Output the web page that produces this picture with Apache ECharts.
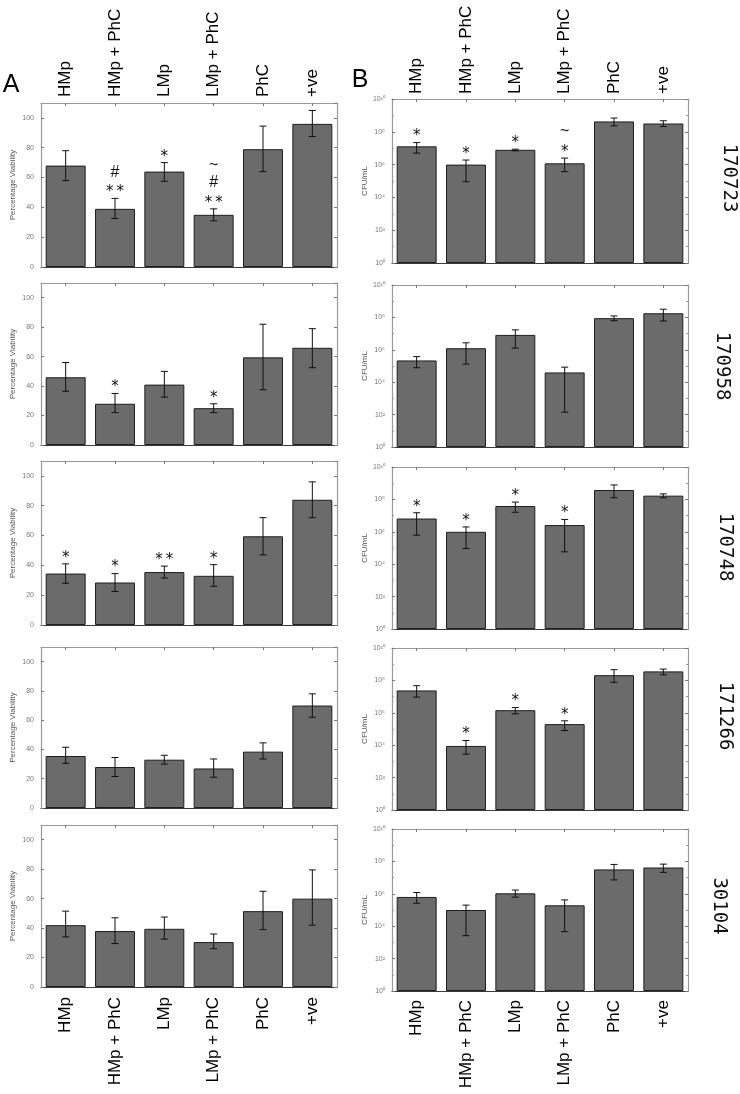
<!DOCTYPE html>
<html>
<head>
<meta charset="utf-8">
<script src="https://cdn.jsdelivr.net/npm/echarts@6/dist/echarts.min.js"></script>
<style>
html,body{margin:0;padding:0;background:#fff;}
#chart{width:740px;height:1094px;}
</style>
</head>
<body>
<div id="chart"></div>
<script>
// ---------- DATA ----------
const categories = ['HMp', 'HMp + PhC', 'LMp', 'LMp + PhC', 'PhC', '+ve'];
const strains = ['170723', '170958', '170748', '171266', '30104'];
const viabTicks = [0, 20, 40, 60, 80, 100];
const cfuTicks = [1, 1e2, 1e4, 1e6, 1e8, 1e10];

// Panel A: Percentage viability (mean, lower and upper error bar ends), one row per strain
const viabMean = [
  [68, 39, 64, 35, 79, 96],
  [46, 28, 41, 25, 59.5, 66],
  [34.5, 28.5, 35.5, 33, 59.5, 84],
  [35.5, 28, 33, 27, 38.5, 70],
  [42, 38, 39.5, 30.5, 51.5, 60]
];
const viabLow = [
  [58, 32.5, 57.5, 31, 64, 87.5],
  [36.5, 22, 32.5, 22, 37.5, 52.5],
  [28, 22.5, 31.5, 26, 47, 72],
  [30.5, 21.5, 30, 21, 33.5, 62],
  [34, 29.5, 32.5, 26, 39, 42]
];
const viabHigh = [
  [78, 46, 70, 39, 94.5, 105],
  [56, 35, 50, 28, 82, 79],
  [41, 34.5, 39.5, 40.5, 72, 96],
  [41.5, 34.5, 36, 33.5, 44.5, 78],
  [51.5, 47, 47.5, 36, 65, 79.5]
];
const viabMarks = [
  ['', '#\n**', '*', '~\n#\n**', '', ''],
  ['', '*', '', '*', '', ''],
  ['*', '*', '**', '*', '', ''],
  ['', '', '', '', '', ''],
  ['', '', '', '', '', '']
];

// Panel B: CFU/mL (mean, lower and upper error bar ends)
const cfuMean = [
  [1.3e7, 1e6, 8e6, 1.2e6, 4.3e8, 3.2e8],
  [2.2e5, 1.25e6, 8.3e6, 4e4, 9e7, 1.8e8],
  [6.6e6, 1e6, 3.9e7, 2.6e6, 3.8e8, 1.7e8],
  [2.4e7, 9e3, 1.45e6, 2e5, 2.1e8, 3.6e8],
  [6.4e5, 1e5, 1.07e6, 1.95e5, 3.2e7, 4.2e7]
];
const cfuLow = [
  [5e6, 9e4, 6.9e6, 3.7e5, 2.3e8, 2.1e8],
  [7.8e4, 1.3e5, 1.26e6, 1.4e2, 6.3e7, 6e7],
  [6.2e5, 9.3e4, 1.6e7, 5.8e4, 1.26e8, 1.26e8],
  [9.3e6, 2.8e3, 8.7e5, 8e4, 7.6e7, 2.2e8],
  [2.6e5, 2.6e3, 6.2e5, 4.6e3, 7.2e6, 2.1e7]
];
const cfuHigh = [
  [2.2e7, 1.9e6, 8.7e6, 2.5e6, 6.9e8, 4.7e8],
  [3.8e5, 2.7e6, 1.7e7, 8.5e4, 1.23e8, 3.2e8],
  [1.5e7, 2e6, 6.8e7, 5.8e6, 7.8e8, 2.2e8],
  [4.7e7, 1.95e4, 2.1e6, 3.2e5, 4.6e8, 5e8],
  [1.2e6, 2e5, 1.7e6, 4.2e5, 6.5e7, 6.8e7]
];
const cfuMarks = [
  ['*', '*', '*', '~\n*', '', ''],
  ['', '', '', '', '', ''],
  ['*', '*', '*', '*', '', ''],
  ['', '*', '*', '*', '', ''],
  ['', '', '', '', '', '']
];

// ---------- LAYOUT ----------
const colLeft = [41, 392];
const colWidth = [296, 296];
const rowTop = [[103, 283, 461, 647, 825], [99, 285, 467, 648, 829]];
const rowHeight = [[164, 162, 164, 161, 162], [164, 162, 162, 162, 162]];
const strainPos = [[729, 178], [722, 366], [725, 547], [725, 716], [719, 906]];

const FONT = 'Liberation Sans, Arial, sans-serif';
const sup = {'0':'\u2070','1':'\u00b9','2':'\u00b2','3':'\u00b3','4':'\u2074','5':'\u2075','6':'\u2076','7':'\u2077','8':'\u2078','9':'\u2079'};
function cfuLabel(expo) {
  const n = Math.round(expo);
  return '10' + String(n).split('').map(c => sup[c]).join('');
}
// CFU values are drawn on a decade (log10) value axis
const lg = v => Math.log10(v);

const grids = [], xAxes = [], yAxes = [], series = [];
const boxColor = '#9a9a9a';
const tickStyle = {show: true, inside: true, length: 3, lineStyle: {color: '#777', width: 1}};

for (let r = 0; r < 5; r++) {
  for (let c = 0; c < 2; c++) {
    const g = grids.length;
    grids.push({left: colLeft[c], width: colWidth[c], top: rowTop[c][r], height: rowHeight[c][r]});
    const catLabel = {fontSize: 17, color: '#000', fontFamily: FONT, interval: 0};
    xAxes.push({
      type: 'category', gridIndex: g, data: categories, position: 'bottom',
      axisLine: {show: true, onZero: false, lineStyle: {color: '#3a3a3a', width: 1.2}},
      axisTick: Object.assign({alignWithLabel: true, interval: 0}, tickStyle),
      axisLabel: Object.assign({show: r === 4, rotate: 90, margin: c === 0 ? 10 : 9}, catLabel),
      splitLine: {show: false}
    });
    xAxes.push({
      type: 'category', gridIndex: g, data: categories, position: 'top',
      axisLine: {show: true, onZero: false, lineStyle: {color: boxColor, width: 1.2}},
      axisTick: Object.assign({alignWithLabel: true, interval: 0}, tickStyle),
      axisLabel: Object.assign({show: r === 0, rotate: -90, margin: c === 0 ? 6 : 5}, catLabel),
      splitLine: {show: false}
    });
    let yBase;
    if (c === 0) {
      yBase = {type: 'value', min: viabTicks[0], max: 110, interval: viabTicks[1] - viabTicks[0]};
    } else {
      yBase = {type: 'value', min: lg(cfuTicks[0]), max: lg(cfuTicks[cfuTicks.length - 1]),
               interval: lg(cfuTicks[1]) - lg(cfuTicks[0])};
    }
    yAxes.push(Object.assign({}, yBase, {
      gridIndex: g, position: 'left',
      name: c === 0 ? 'Percentage Viability' : 'CFU/mL',
      nameLocation: 'middle', nameGap: c === 0 ? 24 : 23, nameRotate: 90,
      nameTextStyle: {fontSize: 8, color: '#555', fontFamily: FONT},
      axisLine: {show: true, onZero: false, lineStyle: {color: boxColor, width: 1.2}},
      axisTick: tickStyle,
      minorTick: c === 1 ? {show: true, splitNumber: 2, length: 2, lineStyle: {color: '#999'}} : {show: false},
      axisLabel: {
        show: true, fontSize: 7, color: '#777', fontFamily: FONT, margin: 7,
        showMaxLabel: c === 1,
        formatter: c === 0 ? (v => (viabTicks.indexOf(v) >= 0 ? String(v) : '')) : (v => cfuLabel(v))
      },
      splitLine: {show: false}
    }));
    yAxes.push(Object.assign({}, yBase, {
      gridIndex: g, position: 'right',
      axisLine: {show: true, onZero: false, lineStyle: {color: boxColor, width: 1.2}},
      axisTick: tickStyle,
      minorTick: c === 1 ? {show: true, splitNumber: 2, length: 2, lineStyle: {color: '#999'}} : {show: false},
      axisLabel: {show: false},
      splitLine: {show: false}
    }));

    const tf = c === 0 ? (v => v) : lg;
    const mean = (c === 0 ? viabMean[r] : cfuMean[r]).map(tf);
    const lo = (c === 0 ? viabLow[r] : cfuLow[r]).map(tf);
    const hi = (c === 0 ? viabHigh[r] : cfuHigh[r]).map(tf);
    const marks = c === 0 ? viabMarks[r] : cfuMarks[r];

    series.push({
      type: 'bar', xAxisIndex: 2 * g, yAxisIndex: 2 * g,
      data: mean, barWidth: '81%',
      itemStyle: {color: '#6b6b6b', borderColor: '#1e1e1e', borderWidth: 1},
      silent: true, animation: false
    });
    series.push({
      type: 'custom', xAxisIndex: 2 * g, yAxisIndex: 2 * g,
      data: categories.map((cat, i) => [i, lo[i], hi[i]]),
      encode: {x: 0, y: [1, 2]},
      z: 5, silent: true, animation: false,
      renderItem: function (params, api) {
        const i = api.value(0);
        const p1 = api.coord([i, api.value(1)]);
        const p2 = api.coord([i, api.value(2)]);
        const w = 3.5;
        const st = {stroke: '#111', lineWidth: 1};
        const children = [
          {type: 'line', shape: {x1: p1[0], y1: p1[1], x2: p2[0], y2: p2[1]}, style: st},
          {type: 'line', shape: {x1: p1[0] - w, y1: p1[1], x2: p1[0] + w, y2: p1[1]}, style: st},
          {type: 'line', shape: {x1: p2[0] - w, y1: p2[1], x2: p2[0] + w, y2: p2[1]}, style: st}
        ];
        const m = marks[params.dataIndex];
        if (m) {
          const lines = m.split('\n').reverse();
          lines.forEach((ln, k) => {
            let y = p2[1] - 9 - k * 17;
            const isStar = ln.indexOf('*') >= 0;
            if (isStar) y += 3;
            children.push({
              type: 'text', x: p2[0], y: y,
              style: {
                text: isStar ? ln.split('').join('\u2009') : ln,
                font: isStar ? '15px DejaVu Sans, sans-serif' : '16px ' + FONT,
                fill: '#111', align: 'center', verticalAlign: 'middle'
              }
            });
          });
        }
        return {type: 'group', children: children};
      }
    });
  }
}

const graphic = [
  {type: 'text', x: 11, y: 85, style: {text: 'A', font: '25px ' + FONT, fill: '#000', align: 'center', verticalAlign: 'middle'}},
  {type: 'text', x: 360, y: 80, style: {text: 'B', font: '25px ' + FONT, fill: '#000', align: 'center', verticalAlign: 'middle'}}
];
strains.forEach((s, r) => {
  graphic.push({
    type: 'text', x: strainPos[r][0], y: strainPos[r][1], rotation: -Math.PI / 2,
    style: {text: s, font: '19px DejaVu Sans Mono, monospace', fill: '#111', align: 'center', verticalAlign: 'middle'}
  });
});

const chart = echarts.init(document.getElementById('chart'), null, {renderer: 'canvas'});
chart.setOption({
  animation: false,
  backgroundColor: '#fff',
  grid: grids,
  xAxis: xAxes,
  yAxis: yAxes,
  series: series,
  graphic: graphic
});
</script>
</body>
</html>
